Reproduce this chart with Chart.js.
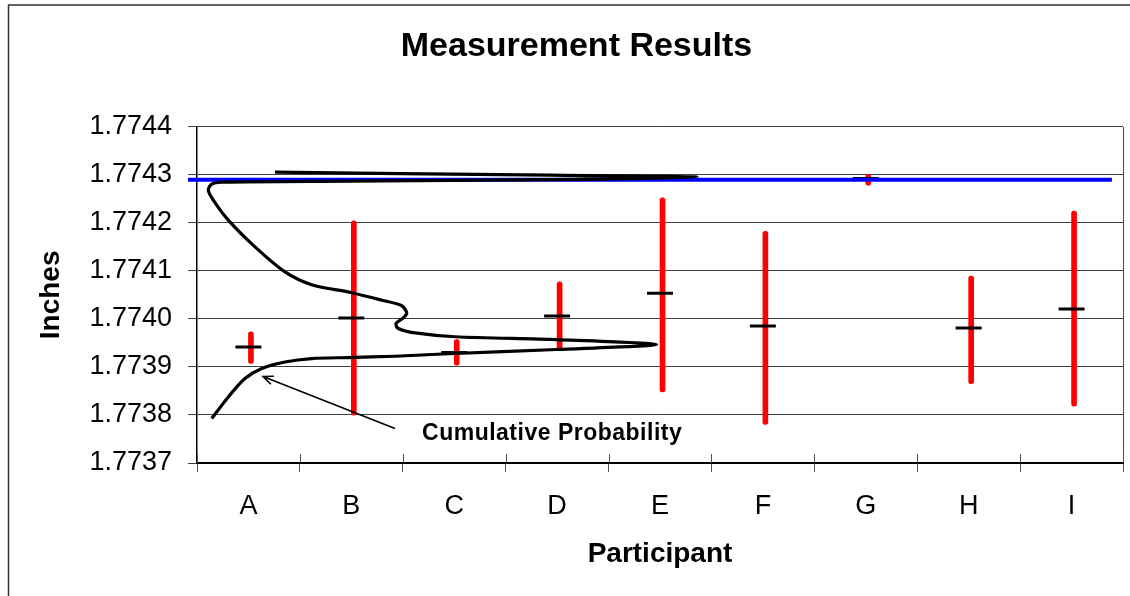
<!DOCTYPE html>
<html>
<head>
<meta charset="utf-8">
<title>Measurement Results</title>
<script src="https://cdn.jsdelivr.net/npm/chart.js@4.4.1/dist/chart.umd.min.js"></script>
<style>
  html, body { margin: 0; padding: 0; background: #fff; }
  #wrap { width: 1130px; height: 596px; }
</style>
</head>
<body>
<div id="wrap"><canvas id="measChart" width="1130" height="596"></canvas></div>
<script>
// participants and their measured ranges (inches)
var participants = ["A", "B", "C", "D", "E", "F", "G", "H", "I"];
var rangeLow  = [1.7739071, 1.7737994, 1.7739035, 1.7739363, 1.7738479, 1.7737802, 1.7742783, 1.7738652, 1.7738181];
var rangeHigh = [1.7739729, 1.7742042, 1.7739571, 1.7740771, 1.7742521, 1.7741825, 1.7743010, 1.7740894, 1.7742244];
var meanValues = [1.7739417, 1.7740021, 1.7739300, 1.7740063, 1.7740535, 1.7739852, 1.7742921, 1.7739810, 1.7740208];

// reference value (blue line)
var referenceValue = 1.77429;

// y axis ticks
var yTickValues = [1.7737, 1.7738, 1.7739, 1.7740, 1.7741, 1.7742, 1.7743, 1.7744];

// cumulative probability curve, drawn sideways (density on x, inches on y)
var curveDensity = [0.0159, 0.0338, 0.0518, 0.0699, 0.0950, 0.1239, 0.1634, 0.2138, 0.2714, 0.3884,
  0.4964, 0.3884, 0.2786, 0.2354, 0.2174, 0.2149, 0.2225, 0.2265, 0.2211, 0.1995,
  0.1671, 0.1239, 0.0950, 0.0626, 0.0338, 0.0176, 0.0122, 0.0159, 0.0267, 0.1652,
  0.3812, 0.5400, 0.3812, 0.2192, 0.0842];
var curveInches = [1.7737925, 1.7738375, 1.7738758, 1.7738967, 1.7739104, 1.7739175, 1.7739196, 1.7739223, 1.7739275, 1.7739363,
  1.7739467, 1.7739567, 1.7739629, 1.7739708, 1.7739800, 1.7739904, 1.7740015, 1.7740119, 1.7740275, 1.7740390,
  1.7740546, 1.7740713, 1.7740979, 1.7741500, 1.7742056, 1.7742473, 1.7742681, 1.7742806, 1.7742848, 1.7742869,
  1.7742900, 1.7742952, 1.7742994, 1.7743025, 1.7743056];

var rangeData = participants.map(function(p, i) {
  return [rangeLow[i], rangeHigh[i]];
});
var curveData = curveDensity.map(function(d, i) {
  return { x: d, y: curveInches[i] };
});

var FONT = "'Liberation Sans', Arial, sans-serif";

// frame, plot border, crossing x ticks and the curve annotation
var extrasPlugin = {
  id: "extras",
  beforeDraw: function(chart) {
    var ctx = chart.ctx;
    ctx.save();
    ctx.fillStyle = "#fff";
    ctx.fillRect(0, 0, chart.width, chart.height);
    ctx.strokeStyle = "#333";
    ctx.lineWidth = 1.5;
    ctx.strokeRect(8.5, 5, chart.width + 20, chart.height + 20);
    ctx.restore();
  },
  afterDraw: function(chart) {
    var ctx = chart.ctx;
    var area = chart.chartArea;
    var xs = chart.scales.xp;
    var ys = chart.scales.y;
    ctx.save();

    // right border of plot area
    ctx.strokeStyle = "#444";
    ctx.lineWidth = 1;
    ctx.beginPath();
    ctx.moveTo(area.right + 0.5, area.top);
    ctx.lineTo(area.right + 0.5, area.bottom);
    ctx.stroke();

    // upper half of the crossing category ticks
    var step = (area.right - area.left) / participants.length;
    ctx.strokeStyle = "#555";
    ctx.beginPath();
    for (var i = 0; i <= participants.length; i++) {
      var tx = Math.round(area.left + i * step) + 0.5;
      ctx.moveTo(tx, area.bottom);
      ctx.lineTo(tx, area.bottom - 9);
    }
    ctx.stroke();

    // arrow pointing at the curve
    var tipX = xs.getPixelForValue(0.0713), tipY = ys.getPixelForValue(1.77388);
    var tailX = xs.getPixelForValue(0.2138), tailY = ys.getPixelForValue(1.773772);
    ctx.strokeStyle = "#000";
    ctx.lineWidth = 1.6;
    ctx.beginPath();
    ctx.moveTo(tailX, tailY);
    ctx.lineTo(tipX, tipY);
    var ang = Math.atan2(tailY - tipY, tailX - tipX);
    ctx.moveTo(tipX + 11 * Math.cos(ang - 0.4), tipY + 11 * Math.sin(ang - 0.4));
    ctx.lineTo(tipX, tipY);
    ctx.lineTo(tipX + 11 * Math.cos(ang + 0.4), tipY + 11 * Math.sin(ang + 0.4));
    ctx.stroke();

    // label
    ctx.fillStyle = "#000";
    ctx.font = "bold 23px " + FONT;
    ctx.textAlign = "left";
    ctx.textBaseline = "alphabetic";
    if ("letterSpacing" in ctx) ctx.letterSpacing = "0.5px";
    ctx.fillText("Cumulative Probability", xs.getPixelForValue(0.243), ys.getPixelForValue(1.773747));
    ctx.restore();
  }
};

var ctx = document.getElementById("measChart");
var measChart = new Chart(ctx, {
  type: "bar",
  data: {
    labels: participants,
    datasets: [{
      type: "line",
      label: "Cumulative Probability",
      data: curveData,
      xAxisID: "xp",
      borderColor: "#000",
      borderWidth: 3.2,
      pointRadius: 0,
      fill: false,
      tension: 0.3,
      order: 1
    }, {
      type: "line",
      label: "Reference",
      data: [{ x: -0.0097, y: referenceValue }, { x: 0.988, y: referenceValue }],
      xAxisID: "xp",
      borderColor: "#0000ff",
      borderWidth: 4,
      pointRadius: 0,
      fill: false,
      clip: false,
      order: 2
    }, {
      type: "line",
      label: "Mean",
      data: meanValues,
      xAxisID: "x",
      showLine: false,
      pointStyle: "line",
      pointRadius: 13,
      pointHoverRadius: 13,
      pointBorderWidth: 3,
      pointHoverBorderWidth: 3,
      borderColor: "#000",
      backgroundColor: "#000",
      order: 3
    }, {
      type: "bar",
      label: "Range",
      data: rangeData,
      xAxisID: "x",
      backgroundColor: "#ff0000",
      barThickness: 5,
      borderRadius: 2.5,
      borderSkipped: false,
      order: 4
    }]
  },
  options: {
    responsive: false,
    animation: false,
    layout: { autoPadding: false, padding: { left: 30, right: 7, top: 0, bottom: 21 } },
    plugins: {
      legend: { display: false },
      tooltip: { enabled: false },
      title: {
        display: true,
        text: "Measurement Results",
        color: "#000",
        font: { family: FONT, size: 34, weight: "bold" },
        padding: { top: 26, bottom: 60 }
      }
    },
    scales: {
      x: {
        type: "category",
        offset: true,
        afterFit: function(scale) { scale.height = 112; },
        grid: {
          offset: true,
          drawOnChartArea: false,
          drawTicks: true,
          tickLength: 9,
          tickColor: "#555"
        },
        border: { color: "#000", width: 2 },
        ticks: {
          color: "#000",
          padding: 18,
          font: { family: FONT, size: 27 }
        },
        title: {
          display: true,
          text: "Participant",
          color: "#000",
          font: { family: FONT, size: 28, weight: "bold" }
        }
      },
      xp: {
        type: "linear",
        display: false,
        offset: false,
        min: 0,
        max: 1
      },
      y: {
        min: 1.7737,
        max: 1.7744,
        afterFit: function(scale) { scale.width = 167; },
        afterBuildTicks: function(scale) {
          scale.ticks = yTickValues.map(function(v) { return { value: v }; });
        },
        grid: {
          color: "#404040",
          lineWidth: 1,
          tickLength: 9,
          tickColor: "#404040"
        },
        border: { color: "#000", width: 1.5 },
        ticks: {
          color: "#000",
          padding: 16,
          font: { family: FONT, size: 27 },
          callback: function(value) { return Number(value).toFixed(4); }
        },
        title: {
          display: true,
          text: "Inches",
          color: "#000",
          font: { family: FONT, size: 28, weight: "bold" }
        }
      }
    }
  },
  plugins: [extrasPlugin]
});
</script>
</body>
</html>
